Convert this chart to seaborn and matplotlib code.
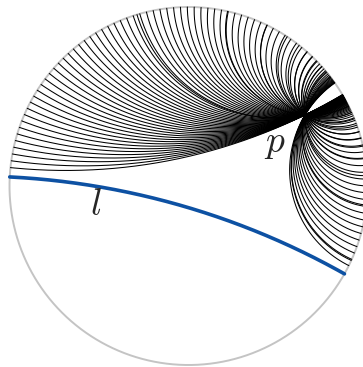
import numpy as np
import pandas as pd
import matplotlib
matplotlib.use("Agg")
import matplotlib.pyplot as plt
import seaborn as sns

# ---- data ----
P_XY = [0.651, 0.397]               # point p inside the Poincare disk
L_ENDS_DEG = [177.1, -29.4]         # ideal endpoints of the line l
PENCIL_ENDS_DEG = [-26.4, 174.1]    # range of ideal endpoints of the geodesics through p
PENCIL_COUNT = [92]
LABELS = ["$p$", "$l$"]
LABEL_POS = [[0.48, 0.19], [-0.52, -0.16]]

sns.set_theme(style="white")
plt.rcParams["mathtext.fontset"] = "cm"

P = complex(*P_XY)


def to_p_frame(z):
    return (z - P) / (1 - np.conj(P) * z)


def from_p_frame(w):
    return (w + P) / (1 + np.conj(P) * w)


def in_arc(z):
    ang = np.degrees(np.angle(z))
    lo, hi = min(L_ENDS_DEG), max(L_ENDS_DEG)
    return (ang > lo) & (ang < hi)


rows = []
t = np.tanh(np.linspace(-7, 7, 1500))
uid = 0
for ang in np.linspace(PENCIL_ENDS_DEG[0], PENCIL_ENDS_DEG[1], PENCIL_COUNT[0]):
    a = np.exp(1j * np.radians(ang))
    d = to_p_frame(a)
    d = d / abs(d)
    b = from_p_frame(-d)
    if in_arc(b):
        z = from_p_frame(t * d)
        rows.append(pd.DataFrame({"x": z.real, "y": z.imag, "u": uid}))
        uid += 1
pencil = pd.concat(rows, ignore_index=True)

# geodesic l
a1, a2 = np.radians(L_ENDS_DEG)
mid = (a1 + a2) / 2
gam = abs(a1 - a2) / 2
if gam > np.pi / 2:
    gam = np.pi - gam
    mid = mid + np.pi
phi = np.linspace(-(np.pi / 2 - gam), np.pi / 2 - gam, 400)
lx0 = 1 / np.cos(gam) - np.tan(gam) * np.cos(phi)
ly0 = np.tan(gam) * np.sin(phi)
lz = (lx0 + 1j * ly0) * np.exp(1j * mid)
line_l = pd.DataFrame({"x": lz.real, "y": lz.imag})

s = np.linspace(0, 2 * np.pi, 721)
circle = pd.DataFrame({"x": np.cos(s), "y": np.sin(s)})

fig = plt.figure(figsize=(3.63, 3.67), dpi=100)
ax = fig.add_axes([0, 0, 1, 1])
sns.lineplot(data=circle, x="x", y="y", sort=False, estimator=None,
             color="#c4c4c4", lw=1.4, ax=ax)
sns.lineplot(data=pencil, x="x", y="y", units="u", estimator=None, sort=False,
             color="black", lw=0.75, ax=ax)
sns.lineplot(data=line_l, x="x", y="y", sort=False, estimator=None,
             color="#0d51a3", lw=2.6, ax=ax)
for lab, (x, y) in zip(LABELS, LABEL_POS):
    ax.text(x, y, lab, fontsize=27, ha="center", va="baseline")

ax.set_xlim(-1.0531, 0.9749)
ax.set_ylim(-1.0112, 1.0391)
ax.axis("off")
fig.savefig("out.png", dpi=100)
